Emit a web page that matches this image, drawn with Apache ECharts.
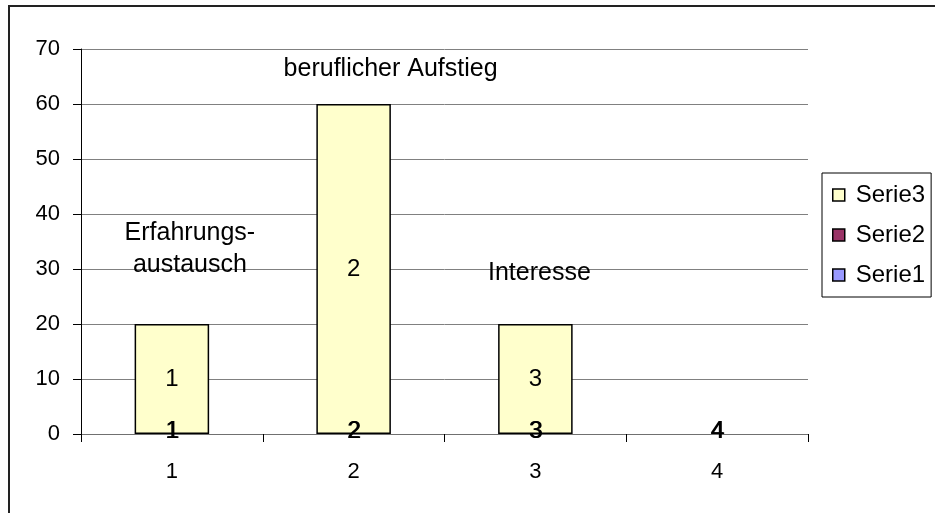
<!DOCTYPE html>
<html>
<head>
<meta charset="utf-8">
<script src="https://cdn.jsdelivr.net/npm/echarts@6/dist/echarts.min.js"></script>
<style>
  html, body { margin: 0; padding: 0; background: #fff; }
  #chart { width: 935px; height: 513px; }
</style>
</head>
<body>
<div id="chart"></div>
<script>
// Daten
const categories = ["1", "2", "3", "4"];
const serie1 = [0, 0, 0, 0];
const serie2 = [0, 0, 0, 0];
const serie3 = [20, 60, 20, 0];
const notes = ["Erfahrungs-\naustausch", "beruflicher Aufstieg", "Interesse"];
const yTicks = { min: 0, max: 70, interval: 10 };

const font = "'Liberation Sans', Arial, sans-serif";

// Versatz der Beschriftungen über den Säulen
const noteOffsets = [[18, -75], [37, -35], [4, -51]];

let myChart = echarts.init(document.getElementById("chart"));

let zeroLabel = (dx) => ({
  show: true,
  position: "inside",
  offset: [dx, -3],
  color: "#000",
  fontFamily: font,
  fontSize: 24,
  formatter: (p) => p.name,
});

// Säulen ohne Höhe: kein Rahmen, keine Innenbeschriftung
let barData = (arr, hideLabel) =>
  arr.map((v) =>
    v === 0
      ? { value: v, itemStyle: { borderWidth: 0 }, label: hideLabel ? { show: false } : undefined }
      : v
  );

let option = {
  animation: false,
  textStyle: { fontFamily: font },
  graphic: [
    {
      type: "rect",
      shape: { x: 9, y: 6, width: 960, height: 540 },
      style: { fill: "none", stroke: "#222", lineWidth: 2 },
      silent: true,
    },
  ],
  legend: {
    orient: "vertical",
    left: 822,
    top: 173,
    data: ["Serie3", "Serie2", "Serie1"],
    icon: "rect",
    itemWidth: 12,
    itemHeight: 12,
    itemGap: 16,
    padding: [10, 6, 10, 10],
    borderColor: "#000",
    borderWidth: 1,
    itemStyle: { borderColor: "#000", borderWidth: 1.5 },
    textStyle: {
      color: "#000",
      fontFamily: font,
      fontSize: 24,
      lineHeight: 24,
      padding: [0, 0, 0, 6],
    },
  },
  grid: {
    left: 81,
    right: 127,
    top: 49,
    bottom: 79,
  },
  xAxis: {
    type: "category",
    data: categories,
    axisLine: { show: true, lineStyle: { color: "#707070", width: 1 } },
    axisTick: { show: true, length: 8, lineStyle: { color: "#000" } },
    axisLabel: {
      color: "#000",
      fontFamily: font,
      fontSize: 22,
      lineHeight: 22,
      margin: 27,
    },
    splitLine: { show: false },
  },
  yAxis: {
    type: "value",
    min: yTicks.min,
    max: yTicks.max,
    interval: yTicks.interval,
    axisLine: { show: true, lineStyle: { color: "#000", width: 1 } },
    axisTick: { show: true, length: 8, lineStyle: { color: "#000" } },
    axisLabel: {
      color: "#000",
      fontFamily: font,
      fontSize: 22,
      margin: 21,
    },
    splitLine: { show: true, lineStyle: { color: "#808080", width: 1 } },
  },
  series: [
    {
      name: "Serie1",
      type: "bar",
      stack: "all",
      data: barData(serie1, false),
      barWidth: "41%",
      itemStyle: { color: "#9999FF", borderColor: "#000", borderWidth: 1.5 },
      label: zeroLabel(0),
      z: 3,
    },
    {
      name: "Serie2",
      type: "bar",
      stack: "all",
      data: barData(serie2, false),
      itemStyle: { color: "#993366", borderColor: "#000", borderWidth: 1.5 },
      label: zeroLabel(1),
      z: 3,
    },
    {
      name: "Serie3",
      type: "bar",
      stack: "all",
      data: barData(serie3, true),
      itemStyle: { color: "#FFFFCC", borderColor: "#000", borderWidth: 1.5 },
      label: {
        show: true,
        position: "inside",
        color: "#000",
        fontFamily: font,
        fontSize: 24,
        formatter: (p) => p.name,
      },
      z: 2,
      markPoint: {
        symbol: "rect",
        symbolSize: 0,
        silent: true,
        data: notes.map((t, i) => ({
          coord: [i, serie3[i]],
          label: {
            show: true,
            position: "inside",
            offset: noteOffsets[i],
            formatter: t,
            color: "#000",
            fontFamily: font,
            fontSize: 25,
            lineHeight: 32,
          },
        })),
      },
    },
  ],
};

myChart.setOption(option, true);

window.addEventListener("resize", () => {
  myChart.resize();
});
</script>
</body>
</html>
